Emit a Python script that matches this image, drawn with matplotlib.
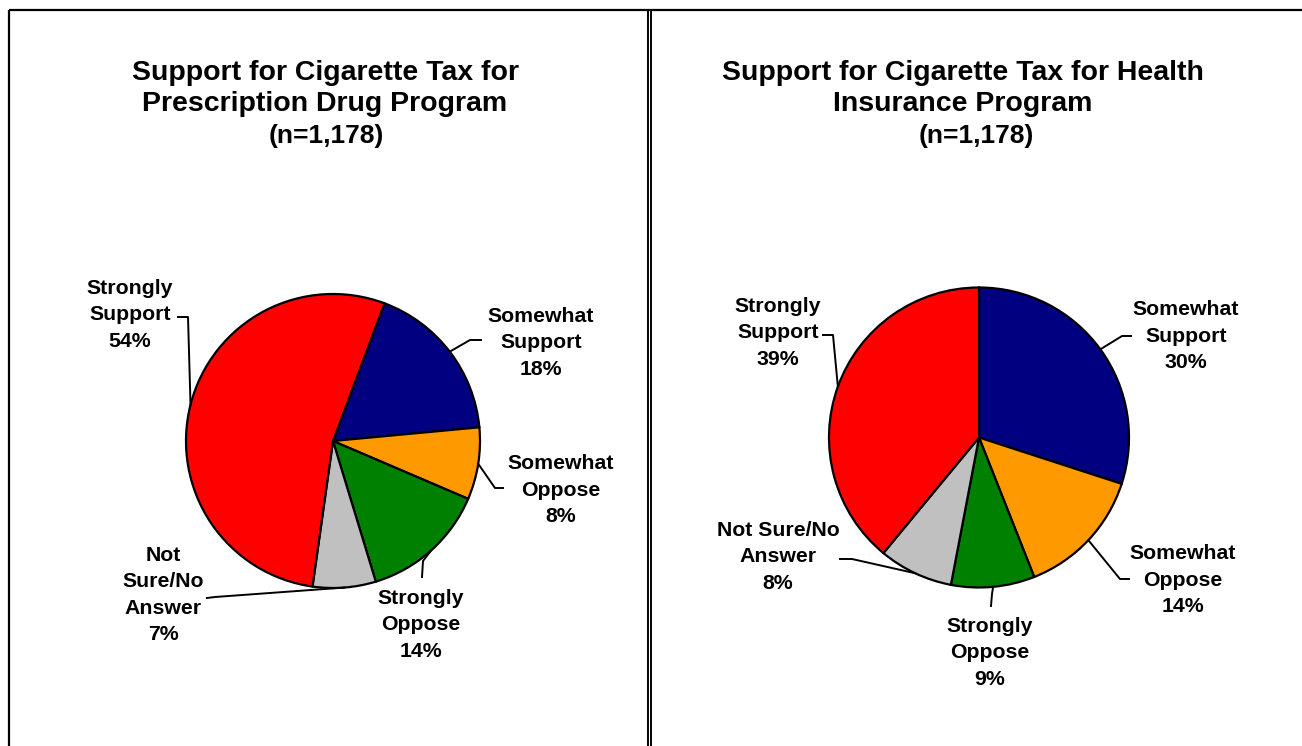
import numpy as np
import matplotlib
matplotlib.use("Agg")
import matplotlib.pyplot as plt

plt.rcParams['font.family'] = ['Liberation Sans', 'DejaVu Sans']

# Survey results (percent), slices listed clockwise
categories = ["Somewhat Support", "Somewhat Oppose", "Strongly Oppose",
              "Not Sure/No Answer", "Strongly Support"]
rx_values = [18, 8, 14, 7, 54]
hi_values = [30, 14, 9, 8, 39]
rx_labels = ["Somewhat\nSupport", "Somewhat\nOppose", "Strongly\nOppose",
             "Not\nSure/No\nAnswer", "Strongly\nSupport"]
hi_labels = ["Somewhat\nSupport", "Somewhat\nOppose", "Strongly\nOppose",
             "Not Sure/No\nAnswer", "Strongly\nSupport"]
rx_title = "Support for Cigarette Tax for\nPrescription Drug Program"
hi_title = "Support for Cigarette Tax for Health\nInsurance Program"
sample_note = "(n=1,178)"

colors = ["#000080", "#FF9900", "#008000", "#C0C0C0", "#FF0000"]

W, H = 1302, 746
fig = plt.figure(figsize=(W / 100, H / 100), dpi=100)
ax = fig.add_axes([0, 0, 1, 1])
ax.set_xlim(0, W)
ax.set_ylim(0, H)
ax.set_aspect('equal')
ax.axis('off')


def Y(y):
    return H - y


# panel frames
ax.plot([8.5, W], [Y(9.5), Y(9.5)], color='black', lw=1.6, solid_capstyle='butt')
ax.plot([8.5, 8.5], [Y(9.5), 0], color='black', lw=1.6, solid_capstyle='butt')
ax.plot([648, 648], [Y(9.5), 0], color='black', lw=1.4, solid_capstyle='butt')
ax.plot([651, 651], [Y(9.5), 0], color='black', lw=1.4, solid_capstyle='butt')

label_font = dict(fontsize=15.3, fontweight='bold', ha='center', va='center',
                  linespacing=1.5)


def draw_pie(values, labels, center, radius, startangle, layout):
    wedges, _ = ax.pie(values, colors=colors, startangle=startangle,
                       counterclock=False, center=(center[0], Y(center[1])),
                       radius=radius,
                       wedgeprops=dict(edgecolor='black', linewidth=1.6))
    for w, lab, v, (tx, ty, kx, ky, ex, ey) in zip(wedges, labels, values, layout):
        mid = np.deg2rad((w.theta1 + w.theta2) / 2)
        sx = center[0] + radius * np.cos(mid)
        sy = Y(center[1]) + radius * np.sin(mid)
        ax.plot([sx, kx, ex], [sy, Y(ky), Y(ey)], color='black', lw=1.4,
                solid_joinstyle='round', zorder=3)
        ax.text(tx, Y(ty), f"{lab}\n{v}%", **label_font)


# text centre (x, y), leader knee (x, y), leader end (x, y)
rx_layout = [
    (541, 343, 470, 340, 481, 340),
    (561, 490, 495, 488, 503, 488),
    (421, 625, 423, 561, 422, 577),
    (163, 595, 215, 597, 207, 598),
    (130, 315, 188, 317, 178, 317),
]
hi_layout = [
    (1186, 336, 1122, 336, 1131, 336),
    (1183, 580, 1120, 579, 1129, 579),
    (990, 653, 992, 594, 991, 606),
    (778, 557, 852, 559, 840, 559),
    (778, 333, 833, 335, 823, 335),
]

draw_pie(rx_values, rx_labels, (333, 441), 147, 69.5, rx_layout)
draw_pie(hi_values, hi_labels, (979, 437.5), 150, 90, hi_layout)

title_font = dict(fontsize=20.5, fontweight='bold', ha='center', va='center',
                  linespacing=1.22)
ax.text(325, Y(88.5), rx_title, **title_font)
ax.text(963, Y(88.5), hi_title, **title_font)
ax.text(326, Y(136), sample_note, fontsize=19, fontweight='bold', ha='center', va='center')
ax.text(976, Y(136), sample_note, fontsize=19, fontweight='bold', ha='center', va='center')

ax.set_xlim(0, W)
ax.set_ylim(0, H)
fig.savefig("out.png", dpi=100)
